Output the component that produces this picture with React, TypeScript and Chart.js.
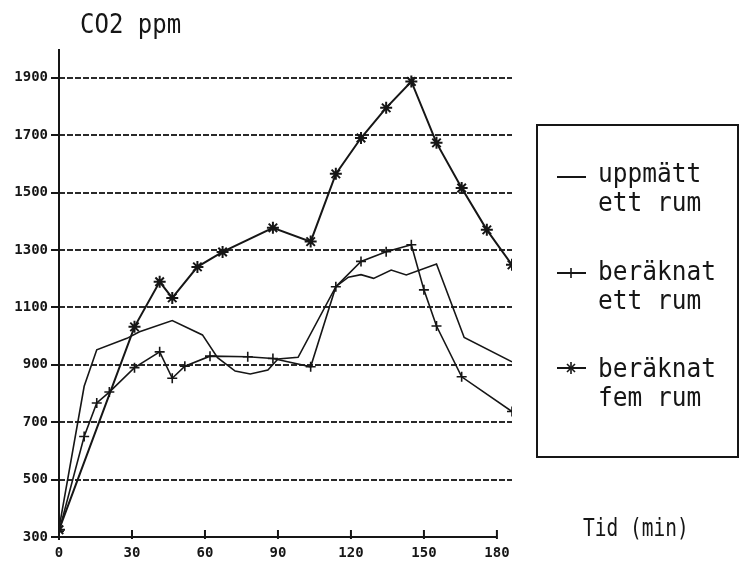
import React, { useEffect, useRef } from "react";
import { Chart, registerables } from "chart.js";

Chart.register(...registerables);

// ---- data ----
const X_TICKS = [0, 30, 60, 90, 120, 150, 180];
const Y_TICKS = [300, 500, 700, 900, 1100, 1300, 1500, 1700, 1900];

const UPP_T = [0, 10, 15, 27, 32, 45, 57, 63, 70, 76, 83, 87, 95, 110, 115, 120, 125, 132, 138, 150, 161, 180];
const UPP_PPM = [330, 825, 952, 992, 1015, 1054, 1004, 925, 878, 868, 882, 920, 926, 1172, 1205, 1214, 1201, 1230, 1213, 1251, 995, 910];

const ETT_T = [0, 10, 15, 20, 30, 40, 45, 50, 60, 75, 85, 100, 110, 120, 130, 140, 145, 150, 160, 180];
const ETT_PPM = [320, 650, 767, 805, 890, 945, 853, 895, 930, 928, 922, 893, 1172, 1260, 1294, 1318, 1161, 1035, 858, 737];

const FEM_T = [0, 30, 40, 45, 55, 65, 85, 100, 110, 120, 130, 140, 150, 160, 170, 180];
const FEM_PPM = [325, 1032, 1189, 1133, 1241, 1293, 1377, 1329, 1565, 1690, 1795, 1887, 1673, 1516, 1370, 1248];

const LEGEND_LINES = [
  ["uppmätt", "ett rum"],
  ["beräknat", "ett rum"],
  ["beräknat", "fem rum"],
];
const SERIES_NAMES = LEGEND_LINES.map((l) => l.join(" "));

const toPoints = (t: number[], v: number[]) => t.map((x, i) => ({ x, y: v[i] }));

const INK = "#161616";
const MONO = "'DejaVu Sans Mono', monospace";

const axesPlugin = {
  id: "plotterAxes",
  beforeDatasetsDraw(chart: any) {
    const { ctx } = chart;
    const xs = chart.scales.x;
    const ys = chart.scales.y;
    const y0 = ys.getPixelForValue(Y_TICKS[0]);
    const x0 = xs.getPixelForValue(X_TICKS[0]);
    const x1 = xs.getPixelForValue(X_TICKS[X_TICKS.length - 1]);
    ctx.save();
    ctx.strokeStyle = INK;
    ctx.lineWidth = 2;
    ctx.setLineDash([]);
    ctx.beginPath();
    ctx.moveTo(x0, y0);
    ctx.lineTo(x1, y0);
    X_TICKS.forEach((v) => {
      const px = xs.getPixelForValue(v);
      ctx.moveTo(px, y0 + 2);
      ctx.lineTo(px, y0 - 7);
    });
    ctx.moveTo(x0, y0 + 3);
    ctx.lineTo(x0, ys.getPixelForValue(ys.max));
    ctx.stroke();
    ctx.restore();
  },
};

function ChartCanvas() {
  const ref = useRef<HTMLCanvasElement | null>(null);
  useEffect(() => {
    if (!ref.current) return;
    const chart = new Chart(ref.current, {
      type: "line",
      data: {
        datasets: [
          {
            label: SERIES_NAMES[0],
            data: toPoints(UPP_T, UPP_PPM),
            xAxisID: "xd",
            borderColor: INK,
            borderWidth: 1.6,
            pointRadius: 0,
            tension: 0,
          },
          {
            label: SERIES_NAMES[1],
            data: toPoints(ETT_T, ETT_PPM),
            xAxisID: "xd",
            borderColor: INK,
            borderWidth: 1.6,
            pointStyle: "cross",
            pointRadius: 5,
            pointBorderWidth: 1.6,
            pointBorderColor: INK,
            tension: 0,
          },
          {
            label: SERIES_NAMES[2],
            data: toPoints(FEM_T, FEM_PPM),
            xAxisID: "xd",
            borderColor: INK,
            borderWidth: 2,
            pointStyle: "star",
            pointRadius: 6,
            pointBorderWidth: 2,
            pointBorderColor: INK,
            tension: 0,
          },
        ],
      },
      options: {
        animation: false,
        responsive: false,
        devicePixelRatio: 1,
        layout: { padding: { top: 49, right: 232, left: 0, bottom: 0 } },
        plugins: { legend: { display: false }, tooltip: { enabled: false } },
        scales: {
          xd: {
            type: "linear",
            display: false,
            min: 0,
            max: 180,
          },
          x: {
            type: "linear",
            position: "bottom",
            min: 0,
            max: 186.2,
            afterBuildTicks: (s: any) => {
              s.ticks = X_TICKS.map((value) => ({ value }));
            },
            afterFit: (s: any) => {
              s.height = 25;
            },
            grid: { display: false, drawTicks: false },
            border: { display: false },
            ticks: {
              color: INK,
              padding: 8,
              maxRotation: 0,
              autoSkip: false,
              callback: (v: any) => String(v),
              font: { family: MONO, size: 14, weight: "bold" },
            },
          },
          y: {
            type: "linear",
            min: 300,
            max: 2000,
            afterBuildTicks: (s: any) => {
              s.ticks = Y_TICKS.map((value) => ({ value }));
            },
            afterFit: (s: any) => {
              s.width = 59;
            },
            grid: {
              color: (c: any) => (c.tick && c.tick.value === Y_TICKS[0] ? "rgba(0,0,0,0)" : "#2a2a2a"),
              lineWidth: 2,
              drawTicks: true,
              tickLength: 8,
              tickColor: INK,
              tickWidth: 2,
              tickBorderDash: [],
            },
            border: { display: false, dash: [6, 2] },
            ticks: {
              color: INK,
              padding: 3,
              autoSkip: false,
              callback: (v: any) => String(v),
              font: { family: MONO, size: 14, weight: "bold" },
            },
          },
        },
      },
      plugins: [axesPlugin],
    });
    return () => chart.destroy();
  }, []);
  return <canvas ref={ref} width={744} height={562} style={{ position: "absolute", left: 0, top: 0 }} />;
}

function Sample({ kind, y }: { kind: number; y: number }) {
  return (
    <svg width={32} height={14} style={{ position: "absolute", left: 555, top: y - 7 }}>
      <line x1={2} y1={7} x2={31} y2={7} stroke={INK} strokeWidth={2} />
      {kind === 1 && <line x1={16} y1={2} x2={16} y2={12} stroke={INK} strokeWidth={1.6} />}
      {kind === 2 && (
        <g stroke={INK} strokeWidth={1.6}>
          <line x1={16} y1={1} x2={16} y2={13} />
          <line x1={12} y1={3} x2={20} y2={11} />
          <line x1={20} y1={3} x2={12} y2={11} />
        </g>
      )}
    </svg>
  );
}

function PlotText({ text, left, baseline, size, sy }: { text: string; left: number; baseline: number; size: number; sy: number }) {
  const asc = size * 0.845;
  return (
    <div
      style={{
        position: "absolute",
        left,
        top: baseline - asc,
        fontFamily: MONO,
        fontSize: size,
        lineHeight: `${size}px`,
        color: INK,
        whiteSpace: "pre",
        transform: `scaleY(${sy})`,
        transformOrigin: `0 ${asc}px`,
      }}
    >
      {text}
    </div>
  );
}

export default function App() {
  const groupBaselines = [183, 281, 378];
  const sampleYs = [177, 273, 368];
  return (
    <div style={{ position: "fixed", left: 0, top: 0, width: 744, height: 562, background: "#fff", overflow: "hidden" }}>
      <ChartCanvas />
      <PlotText text="CO2 ppm" left={80} baseline={33} size={24} sy={1.1} />
      <div
        style={{
          position: "absolute",
          left: 536,
          top: 124,
          width: 203,
          height: 334,
          border: `2px solid ${INK}`,
          boxSizing: "border-box",
        }}
      />
      {LEGEND_LINES.map((lines, i) => (
        <React.Fragment key={i}>
          <Sample kind={i} y={sampleYs[i]} />
          <PlotText text={lines[0]} left={598} baseline={groupBaselines[i]} size={24.5} sy={1.12} />
          <PlotText text={lines[1]} left={598} baseline={groupBaselines[i] + 29} size={24.5} sy={1.12} />
        </React.Fragment>
      ))}
      <PlotText text="Tid (min)" left={583} baseline={536} size={19.5} sy={1.3} />
    </div>
  );
}
